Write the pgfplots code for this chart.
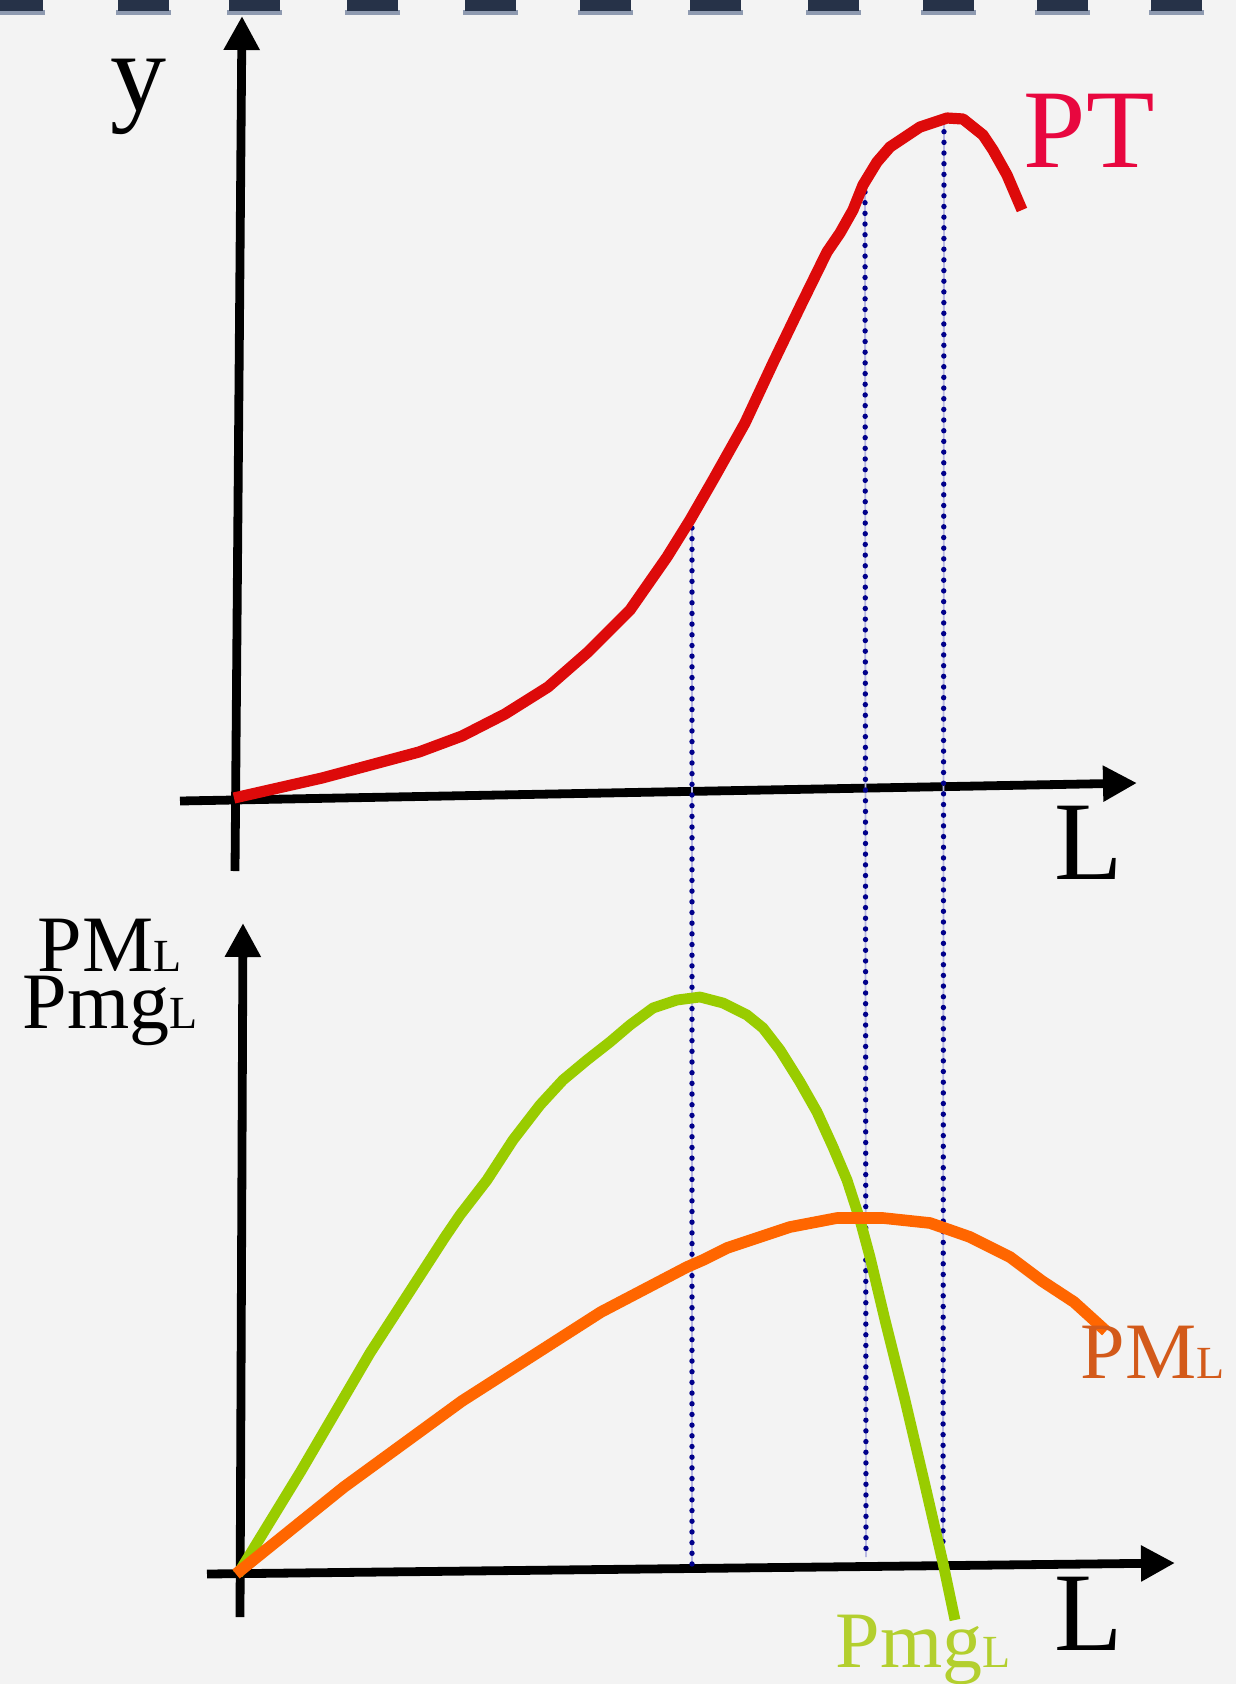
\documentclass[border=0pt]{standalone}
\usepackage{fontspec}
\setmainfont{Liberation Serif}
\usepackage{pgfplots}
\pgfplotsset{compat=1.18}
\usetikzlibrary{arrows.meta}

\definecolor{paper}{HTML}{F3F3F3}
\definecolor{ptcurve}{HTML}{DD0A0A}
\definecolor{ptlabel}{HTML}{E8073F}
\definecolor{mgcurve}{HTML}{99CC00}
\definecolor{mglabel}{HTML}{B3CF2E}
\definecolor{mecurve}{HTML}{FF6600}
\definecolor{melabel}{HTML}{D35A1A}
\definecolor{guide}{HTML}{00008B}
\definecolor{guidefaint}{HTML}{B8B8E3}
\definecolor{tabdark}{HTML}{263248}
\definecolor{tablight}{HTML}{8E9AB0}

% small-cap style L
\newcommand\sL{{\fontsize{11.5}{12}\selectfont L}}

\begin{document}
\begin{tikzpicture}
\begin{axis}[
  width=309pt, height=421pt, scale only axis,
  xmin=0, xmax=1236, ymin=0, ymax=1684, y dir=reverse,
  axis line style={draw=none}, ticks=none,
  axis background/.style={fill=paper},
  clip=false,
]
% binder tabs along the top edge
\pgfplotsinvokeforeach{-8,118,229,347,465,580,690,808,923,1037,1151}{
  \fill[tablight] (axis cs:#1-2,10) rectangle (axis cs:#1+53,15);
  \fill[tabdark] (axis cs:#1,0) rectangle (axis cs:#1+51,11);
}

% coordinate axes
\tikzset{axarrow/.style={line width=2.2pt, -{Triangle[length=8.5pt,width=8.5pt]}}}
\draw[axarrow] (axis cs:235,871) -- (axis cs:242,16);
\draw[axarrow] (axis cs:180,801) -- (axis cs:1137,783);
\draw[axarrow] (axis cs:240,1617) -- (axis cs:243,923);
\draw[axarrow] (axis cs:207,1574) -- (axis cs:1175,1563);

% vertical guides linking the two panels
\pgfplotsset{guideline/.style={no marks, guidefaint, line width=0.45pt},
             guidedots/.style={no marks, guide, line width=1.35pt, line cap=round, dash pattern=on 0pt off 2.67pt}}
\addplot[guideline] coordinates {(692,528) (692,1566)};
\addplot[guidedots] coordinates {(692,528) (692,1566)};
\addplot[guideline] coordinates {(865,192) (866,1557)};
\addplot[guidedots] coordinates {(865,192) (866,1557)};
\addplot[guideline] coordinates {(944,121) (943,1560)};
\addplot[guidedots] coordinates {(944,121) (943,1560)};

% marginal product
\addplot[no marks, mgcurve, line width=2.7pt, line join=round] coordinates {
  (238,1574) (301,1471) (370,1353) (445,1237) (460,1215) (487,1180)
  (513,1140) (540,1105) (563,1080) (587,1060) (610,1042) (630,1025)
  (653,1008) (677,1000) (700,997) (723,1003) (747,1015) (763,1028)
  (780,1050) (800,1082) (817,1112) (833,1147) (847,1180) (860,1220)
  (870,1257) (885,1320) (905,1400) (925,1485) (943,1563) (955,1620)
};

% average product
\addplot[no marks, mecurve, line width=2.9pt, line join=round] coordinates {
  (236,1574) (344,1487) (462,1401) (601,1312) (687,1267) (703,1260)
  (727,1248) (760,1237) (790,1227) (837,1218) (883,1218) (930,1223)
  (970,1237) (1010,1257) (1042,1281) (1074,1302) (1106,1331)
};

% total product
\addplot[no marks, ptcurve, line width=2.8pt, line join=round] coordinates {
  (234,798) (322,778) (419,752) (462,736) (505,714) (548,687) (588,652)
  (630,610) (667,557) (690,520) (713,480) (745,423) (773,363) (800,307)
  (827,252) (840,233) (853,210) (863,185) (877,162) (890,147) (920,127)
  (947,118) (963,119) (983,135) (993,150) (1007,175) (1022,210)
};

% labels
\node[anchor=base, font=\fontsize{28}{30}\selectfont] at (axis cs:138,110) {y};
\node[anchor=base, font=\fontsize{28}{30}\selectfont] at (axis cs:1089,879) {L};
\node[anchor=base west, inner sep=0pt, text=ptlabel, font=\fontsize{28}{30}\selectfont] at (axis cs:1023,167) {PT};
\node[anchor=base, font=\fontsize{28}{30}\selectfont] at (axis cs:1089,1650) {L};
\node[anchor=base west, inner sep=0pt, font=\fontsize{20}{22}\selectfont] at (axis cs:37,971) {PM\sL};
\node[anchor=base west, inner sep=0pt, font=\fontsize{20}{22}\selectfont] at (axis cs:22,1028) {Pmg\sL};
\node[anchor=base west, inner sep=0pt, text=mglabel, font=\fontsize{20}{22}\selectfont] at (axis cs:835,1667) {Pmg\sL};
\node[anchor=base west, inner sep=0pt, text=melabel, font=\fontsize{20}{22}\selectfont] at (axis cs:1080,1378) {PM\sL};
\end{axis}
\pgfresetboundingbox
\path[use as bounding box] (current axis.south west) rectangle (current axis.north east);
\end{tikzpicture}
\end{document}
